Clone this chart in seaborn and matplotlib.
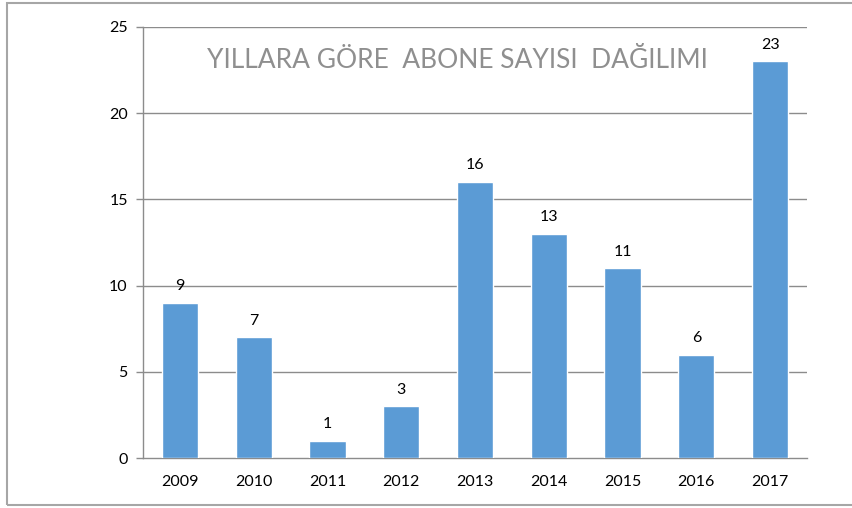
import matplotlib
matplotlib.use("Agg")
import matplotlib.pyplot as plt
import seaborn as sns
import pandas as pd
from matplotlib.patches import Rectangle

years = ["2009", "2010", "2011", "2012", "2013", "2014", "2015", "2016", "2017"]
subscribers = [9, 7, 1, 3, 16, 13, 11, 6, 23]
y_ticks = [0, 5, 10, 15, 20, 25]
title = "YILLARA GÖRE  ABONE SAYISI  DAĞILIMI"

df = pd.DataFrame({"year": years, "count": subscribers})

sns.set_theme(style="white")
plt.rcParams["font.family"] = ["Lato", "DejaVu Sans"]

W, H = 852, 508
fig = plt.figure(figsize=(W / 100, H / 100), dpi=100)
ax = fig.add_axes([143 / W, 1 - 458 / H, (807 - 143) / W, (458 - 27) / H])

bar_color = "#5B9BD5"
sns.barplot(data=df, x="year", y="count", color=bar_color, width=0.49,
            saturation=1, ax=ax, zorder=3)

ax.set_ylim(0, 25)
ax.set_xlim(-0.5, len(years) - 0.5)
ax.set_yticks(y_ticks)
ax.set_yticklabels([str(t) for t in y_ticks])
ax.set_xlabel("")
ax.set_ylabel("")

grid_color = "#8c8c8c"
for t in y_ticks[1:]:
    ax.axhline(t, color=grid_color, lw=1.0, zorder=1)

for side in ("top", "right"):
    ax.spines[side].set_visible(False)
for side in ("left", "bottom"):
    ax.spines[side].set_color(grid_color)
    ax.spines[side].set_linewidth(1.0)

# category boundaries carry the x tick marks
ax.set_xticks(range(len(years)))
ax.set_xticklabels(years)
ax.tick_params(axis="x", length=0, pad=12, labelsize=11.5, colors="black")
bounds = [i - 0.5 for i in range(len(years) + 1)]
ax.set_xticks(bounds, minor=True)
ax.tick_params(axis="x", which="minor", length=5, width=1.0, color=grid_color,
               direction="out")
ax.tick_params(axis="y", length=5, width=1.0, color=grid_color, pad=6,
               labelsize=11.5, labelcolor="black", left=True)

for i, v in enumerate(subscribers):
    ax.annotate(str(v), (i, v), xytext=(0, 7), textcoords="offset points",
                ha="center", va="bottom", fontsize=11.5, color="black")

ax.text(457 / W, 1 - 60 / H, title, transform=fig.transFigure,
        ha="center", va="center", fontsize=19, color="#8f8f8f")

fig.patches.append(Rectangle((7 / W, 3 / H), 2.0, (505 - 3) / H,
                             transform=fig.transFigure, fill=False,
                             edgecolor="#a6a6a6", lw=1.5, clip_on=False))

fig.savefig("out.png", dpi=100)
